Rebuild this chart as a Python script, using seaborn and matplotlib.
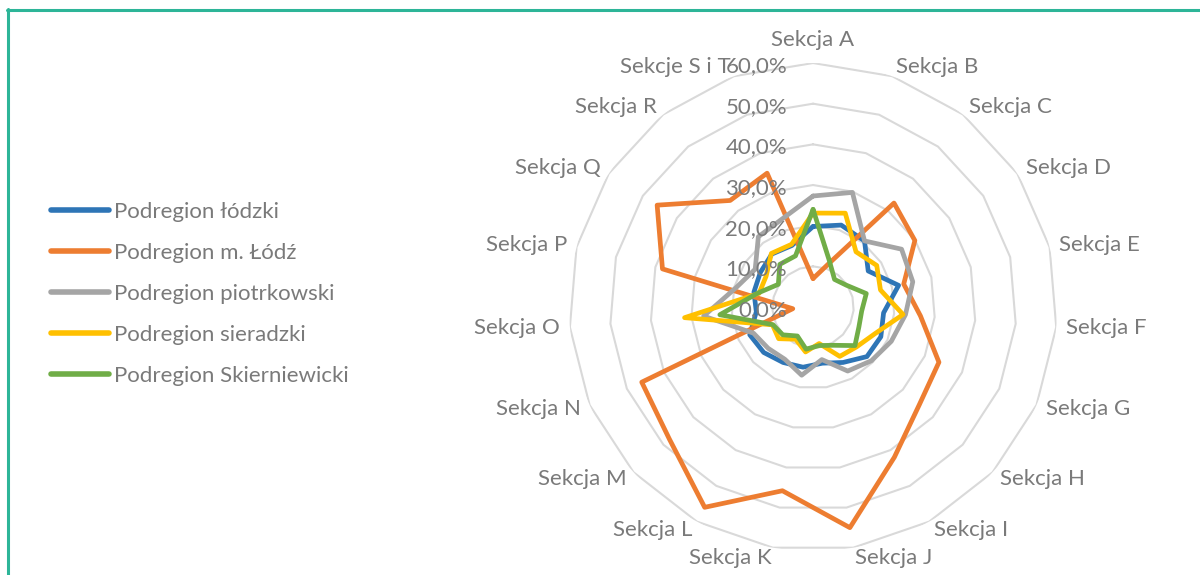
import numpy as np
import pandas as pd
import matplotlib
matplotlib.use('agg')
import matplotlib.pyplot as plt
from matplotlib.lines import Line2D
import seaborn as sns

# categories of the radar (clockwise from the top)
categories = ['Sekcja A', 'Sekcja B', 'Sekcja C', 'Sekcja D', 'Sekcja E', 'Sekcja F',
              'Sekcja G', 'Sekcja H', 'Sekcja I', 'Sekcja J', 'Sekcja K', 'Sekcja L',
              'Sekcja M', 'Sekcja N', 'Sekcja O', 'Sekcja P', 'Sekcja Q', 'Sekcja R',
              'Sekcje S i T']

# values in percent
lodzki = [19.8, 21.3, 20.6, 16.2, 21.7, 17.4, 18.2, 18.0, 15.5, 14.0,
          15.0, 15.5, 16.5, 17.0, 14.0, 15.0, 15.5, 16.5, 16.0]
m_lodz = [7.0, 11.0, 32.4, 29.9, 23.0, 26.5, 33.8, 35.5, 42.0, 55.0,
          45.8, 56.0, 48.0, 46.0, 5.0, 38.2, 45.8, 33.2, 34.8]
piotrkowski = [27.3, 29.8, 20.6, 26.0, 25.3, 22.8, 21.0, 19.5, 17.9, 13.1,
               17.0, 14.6, 15.0, 16.0, 27.0, 19.5, 17.0, 21.9, 23.0]
sieradzki = [23.1, 24.4, 17.2, 18.7, 17.1, 22.2, 16.5, 14.5, 13.8, 9.1,
             11.2, 9.0, 11.5, 10.9, 31.7, 13.7, 13.8, 16.7, 16.3]
skierniewicki = [24.0, 12.2, 8.6, 9.8, 13.5, 12.0, 12.3, 14.0, 10.7, 9.6,
                 10.5, 8.1, 10.1, 10.8, 23.0, 14.0, 10.2, 13.3, 13.3]

series_names = ['Podregion łódzki', 'Podregion m. Łódź', 'Podregion piotrkowski',
                'Podregion sieradzki', 'Podregion Skierniewicki']
colors = ['#2E75B6', '#ED7D31', '#A5A5A5', '#FFC000', '#70AD47']

radial_ticks = [0, 10, 20, 30, 40, 50, 60]
radial_labels = ['0,0%', '10,0%', '20,0%', '30,0%', '40,0%', '50,0%', '60,0%']

sns.set_theme(style='white')
plt.rcParams['font.family'] = ['Lato', 'DejaVu Sans']
text_color = '#7A7A7A'
fs = 16

n = len(categories)
angles = np.linspace(0, 2 * np.pi, n, endpoint=False)
closed = np.append(angles, 2 * np.pi)

rows = []
for name, vals in zip(series_names, [lodzki, m_lodz, piotrkowski, sieradzki, skierniewicki]):
    for t, v in zip(closed, vals + vals[:1]):
        rows.append({'theta': t, 'value': v, 'series': name})
df = pd.DataFrame(rows)

fig = plt.figure(figsize=(12, 5.75), dpi=100)
ax = fig.add_axes([0.4742, 0.0417, 0.4067, 0.8487], projection='polar')
ax.set_theta_zero_location('N')
ax.set_theta_direction(-1)
ax.set_facecolor('none')

# polygon gridlines like the Excel radar
for r in radial_ticks[1:]:
    ax.plot(closed, [r] * (n + 1), color='#D9D9D9', lw=1.5, zorder=1)

sns.lineplot(data=df, x='theta', y='value', hue='series',
             palette=dict(zip(series_names, colors)), sort=False,
             estimator=None, linewidth=3.4, ax=ax)

ax.set_ylim(0, 60)
ax.grid(False)
ax.spines['polar'].set_visible(False)
ax.set_xticks([])
ax.set_yticks([])
ax.set_xlabel('')
ax.set_ylabel('')

for ang, lab in zip(angles, categories):
    s, c = np.sin(ang), np.cos(ang)
    if abs(s) < 0.1:
        ha, d = 'center', 23
    else:
        ha, d = ('left' if s > 0 else 'right'), 10
    ax.annotate(lab, xy=(ang, 60), xytext=(d * s, d * c), textcoords='offset pixels',
                ha=ha, va='center', fontsize=fs, color=text_color,
                annotation_clip=False)

for r, lab in zip(radial_ticks, radial_labels):
    ax.annotate(lab, xy=(0, r), xytext=(-26, -3), textcoords='offset pixels',
                ha='right', va='center', fontsize=fs, color=text_color,
                zorder=10, annotation_clip=False)

handles, labels = ax.get_legend_handles_labels()
if ax.get_legend() is not None:
    ax.get_legend().remove()
leg = fig.legend(handles, labels, loc='center left', bbox_to_anchor=(0.0425, 0.4887),
                 frameon=False, fontsize=fs, handlelength=2.6, handletextpad=0.25,
                 labelspacing=0.95, borderpad=0, borderaxespad=0)
for t in leg.get_texts():
    t.set_color(text_color)
for l in leg.get_lines():
    l.set_linewidth(4)
    l.set_solid_capstyle('round')

# teal frame of the original chart area (top and left edges)
frame_col = '#2DB598'
fig.add_artist(Line2D([7 / 1200, 1], [1 - 9.5 / 575] * 2, transform=fig.transFigure,
                      color=frame_col, lw=2.2))
fig.add_artist(Line2D([7.5 / 1200] * 2, [0, 1 - 9 / 575], transform=fig.transFigure,
                      color=frame_col, lw=2.2))

fig.savefig('out.png', dpi=100)
